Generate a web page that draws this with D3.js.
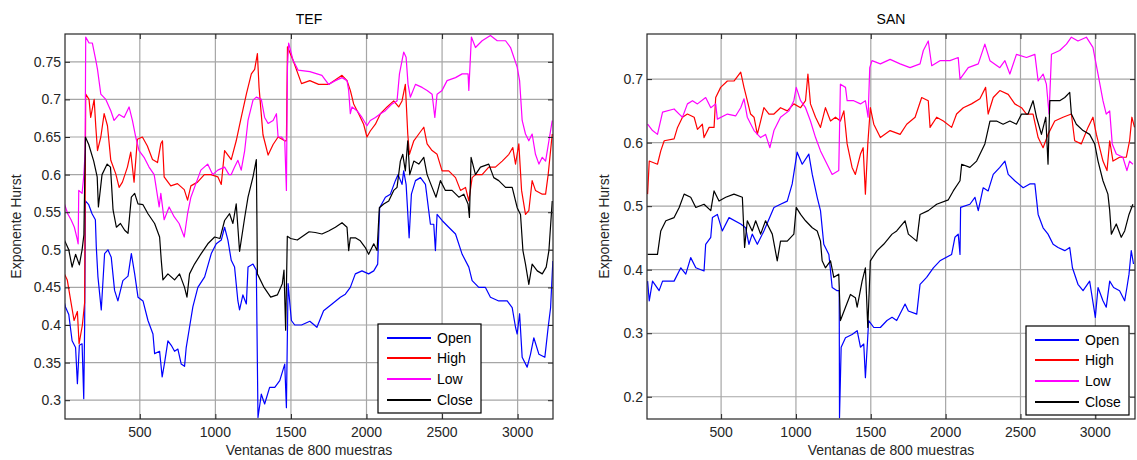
<!DOCTYPE html>
<html lang="es">
<head>
<meta charset="UTF-8">
<title>Exponente Hurst</title>
<script src="https://cdn.jsdelivr.net/npm/d3@7/dist/d3.min.js"></script>
<style>
body { margin: 0; background: #fff; }
svg { display: block; font-family: "Liberation Sans", Arial, sans-serif; }
</style>
</head>
<body>
<svg id="chart" width="1137" height="460"></svg>
<script>
var seriesNames = ["Open", "High", "Low", "Close"];
var seriesColors = { Open: "#0000ff", High: "#ff0000", Low: "#ff00ff", Close: "#000000" };
var xTicks = [500, 1000, 1500, 2000, 2500, 3000];
var tefYTicks = [0.3, 0.35, 0.4, 0.45, 0.5, 0.55, 0.6, 0.65, 0.7, 0.75];
var sanYTicks = [0.2, 0.3, 0.4, 0.5, 0.6, 0.7];

// TEF  [ventana, hurst]
var tefOpen = [[1,0.43],[8,0.424],[30,0.414],[52,0.379],[75,0.37],[87,0.322],[100,0.373],[118,0.375],[129,0.302],[135,0.40],[140,0.565],[162,0.56],[184,0.548],[206,0.54],[212,0.504],[223,0.464],[245,0.42],[267,0.495],[289,0.50],[311,0.49],[333,0.446],[355,0.432],[388,0.459],[422,0.465],[444,0.495],[466,0.468],[488,0.437],[521,0.432],[554,0.406],[587,0.388],[598,0.362],[631,0.365],[648,0.331],[664,0.35],[686,0.379],[708,0.373],[730,0.365],[752,0.368],[774,0.348],[796,0.345],[807,0.37],[829,0.397],[851,0.424],[884,0.45],[929,0.464],[973,0.495],[1006,0.508],[1039,0.513],[1061,0.53],[1083,0.513],[1105,0.486],[1127,0.477],[1149,0.432],[1160,0.42],[1182,0.44],[1205,0.428],[1216,0.477],[1249,0.481],[1271,0.473],[1282,0.277],[1304,0.308],[1326,0.295],[1359,0.317],[1393,0.317],[1426,0.326],[1459,0.348],[1470,0.29],[1481,0.455],[1503,0.406],[1525,0.40],[1570,0.40],[1625,0.405],[1672,0.397],[1716,0.419],[1772,0.428],[1827,0.437],[1860,0.441],[1893,0.45],[1926,0.468],[1970,0.472],[2014,0.468],[2048,0.472],[2074,0.481],[2087,0.556],[2125,0.57],[2158,0.574],[2191,0.592],[2209,0.60],[2235,0.587],[2246,0.605],[2262,0.587],[2271,0.556],[2282,0.516],[2297,0.574],[2324,0.592],[2357,0.596],[2390,0.587],[2423,0.534],[2445,0.534],[2456,0.499],[2467,0.547],[2500,0.539],[2544,0.53],[2589,0.521],[2633,0.494],[2677,0.477],[2699,0.459],[2743,0.45],[2787,0.45],[2820,0.437],[2875,0.432],[2931,0.432],[2964,0.423],[2986,0.397],[2997,0.388],[3013,0.415],[3030,0.357],[3063,0.344],[3085,0.361],[3107,0.383],[3141,0.361],[3180,0.357],[3202,0.397],[3218,0.423],[3233,0.485]];
var tefHigh = [[1,0.468],[20,0.46],[43,0.432],[65,0.406],[87,0.418],[98,0.375],[120,0.40],[135,0.43],[142,0.707],[164,0.70],[175,0.676],[198,0.70],[209,0.663],[220,0.632],[242,0.65],[264,0.681],[286,0.665],[308,0.619],[341,0.601],[363,0.583],[385,0.59],[418,0.61],[440,0.63],[462,0.59],[484,0.647],[517,0.65],[550,0.638],[584,0.62],[617,0.616],[639,0.641],[650,0.645],[661,0.597],[705,0.585],[749,0.588],[794,0.58],[816,0.566],[838,0.585],[882,0.59],[927,0.60],[971,0.60],[1016,0.597],[1039,0.587],[1061,0.632],[1105,0.62],[1138,0.645],[1171,0.676],[1205,0.707],[1238,0.734],[1260,0.74],[1278,0.761],[1289,0.716],[1315,0.653],[1349,0.626],[1382,0.64],[1415,0.65],[1459,0.645],[1470,0.645],[1477,0.77],[1514,0.752],[1570,0.721],[1625,0.725],[1683,0.72],[1749,0.72],[1838,0.732],[1871,0.725],[1893,0.712],[1915,0.694],[1948,0.681],[1981,0.667],[2003,0.65],[2025,0.658],[2059,0.667],[2092,0.681],[2136,0.69],[2180,0.698],[2213,0.69],[2235,0.698],[2257,0.72],[2273,0.654],[2284,0.627],[2313,0.645],[2346,0.654],[2379,0.663],[2401,0.641],[2434,0.632],[2467,0.627],[2500,0.605],[2544,0.605],[2589,0.596],[2622,0.579],[2655,0.583],[2677,0.565],[2699,0.596],[2721,0.60],[2765,0.60],[2809,0.61],[2853,0.61],[2898,0.618],[2942,0.627],[2968,0.636],[2986,0.614],[3008,0.641],[3026,0.579],[3052,0.547],[3074,0.552],[3096,0.592],[3118,0.579],[3163,0.574],[3185,0.574],[3202,0.60],[3229,0.654]];
var tefLow = [[1,0.561],[23,0.548],[45,0.54],[67,0.53],[85,0.515],[92,0.508],[96,0.579],[118,0.575],[130,0.60],[138,0.63],[142,0.783],[164,0.775],[186,0.775],[209,0.752],[220,0.74],[242,0.707],[275,0.70],[308,0.685],[330,0.672],[363,0.68],[396,0.676],[429,0.69],[451,0.672],[473,0.65],[495,0.632],[528,0.623],[561,0.61],[595,0.60],[628,0.557],[639,0.575],[661,0.54],[694,0.557],[727,0.544],[760,0.535],[794,0.517],[816,0.548],[838,0.57],[871,0.588],[904,0.606],[949,0.614],[982,0.60],[1016,0.606],[1061,0.61],[1090,0.60],[1105,0.60],[1127,0.61],[1149,0.619],[1171,0.606],[1194,0.632],[1216,0.672],[1249,0.699],[1271,0.703],[1304,0.70],[1326,0.676],[1349,0.668],[1382,0.672],[1404,0.681],[1415,0.65],[1437,0.65],[1459,0.645],[1470,0.579],[1477,0.743],[1485,0.775],[1514,0.752],[1547,0.739],[1625,0.737],[1705,0.732],[1749,0.72],[1794,0.725],[1838,0.729],[1871,0.725],[1882,0.712],[1893,0.681],[1904,0.69],[1937,0.685],[1970,0.676],[2003,0.665],[2025,0.672],[2059,0.676],[2092,0.681],[2125,0.685],[2169,0.694],[2202,0.698],[2218,0.734],[2246,0.763],[2262,0.756],[2275,0.72],[2290,0.703],[2324,0.72],[2368,0.716],[2401,0.712],[2434,0.707],[2452,0.676],[2467,0.707],[2500,0.712],[2533,0.725],[2589,0.729],[2633,0.734],[2672,0.734],[2677,0.712],[2694,0.783],[2721,0.769],[2765,0.778],[2820,0.785],[2865,0.778],[2920,0.778],[2953,0.769],[2975,0.756],[2997,0.743],[3013,0.725],[3030,0.672],[3052,0.654],[3074,0.645],[3096,0.654],[3118,0.627],[3141,0.614],[3163,0.623],[3185,0.618],[3207,0.645],[3229,0.672]];
var tefClose = [[1,0.513],[30,0.50],[52,0.477],[75,0.494],[100,0.48],[118,0.50],[130,0.52],[140,0.65],[162,0.64],[195,0.618],[218,0.597],[226,0.557],[250,0.60],[284,0.614],[306,0.61],[323,0.553],[345,0.53],[372,0.535],[400,0.526],[422,0.522],[444,0.57],[466,0.575],[488,0.561],[521,0.56],[554,0.548],[598,0.535],[631,0.517],[642,0.486],[653,0.46],[686,0.468],[730,0.46],[763,0.468],[796,0.45],[812,0.437],[829,0.468],[862,0.481],[906,0.495],[950,0.508],[995,0.517],[1030,0.515],[1061,0.539],[1094,0.548],[1116,0.535],[1138,0.561],[1160,0.498],[1194,0.543],[1216,0.57],[1249,0.597],[1271,0.62],[1275,0.539],[1278,0.468],[1322,0.45],[1366,0.437],[1410,0.44],[1443,0.455],[1454,0.473],[1465,0.393],[1476,0.518],[1498,0.515],[1542,0.513],[1620,0.524],[1661,0.523],[1705,0.521],[1749,0.525],[1794,0.53],[1838,0.536],[1871,0.53],[1882,0.499],[1893,0.516],[1926,0.516],[1959,0.512],[1992,0.503],[2014,0.494],[2048,0.508],[2070,0.499],[2085,0.556],[2114,0.561],[2147,0.565],[2180,0.579],[2202,0.583],[2224,0.618],[2240,0.627],[2257,0.605],[2273,0.645],[2286,0.60],[2313,0.618],[2346,0.614],[2379,0.623],[2401,0.60],[2434,0.583],[2460,0.57],[2489,0.592],[2522,0.579],[2566,0.579],[2611,0.57],[2644,0.574],[2672,0.561],[2681,0.543],[2692,0.623],[2721,0.60],[2754,0.61],[2809,0.614],[2842,0.596],[2875,0.592],[2920,0.583],[2964,0.583],[2997,0.556],[3019,0.547],[3035,0.499],[3052,0.481],[3074,0.454],[3096,0.481],[3130,0.472],[3163,0.468],[3189,0.477],[3207,0.499],[3229,0.565]];

// SAN
var sanOpen = [[9,0.382],[20,0.351],[42,0.382],[86,0.367],[109,0.382],[186,0.382],[231,0.403],[264,0.393],[297,0.419],[331,0.403],[386,0.398],[397,0.44],[431,0.451],[442,0.482],[475,0.487],[508,0.461],[553,0.482],[631,0.472],[664,0.466],[686,0.44],[708,0.456],[742,0.44],[786,0.461],[853,0.498],[897,0.503],[942,0.508],[975,0.535],[1008,0.585],[1042,0.566],[1086,0.582],[1109,0.55],[1142,0.514],[1164,0.493],[1186,0.44],[1220,0.424],[1242,0.372],[1275,0.367],[1289,0.367],[1291,0.167],[1302,0.278],[1331,0.293],[1375,0.298],[1409,0.304],[1431,0.278],[1453,0.283],[1464,0.23],[1486,0.32],[1520,0.309],[1564,0.309],[1608,0.32],[1642,0.325],[1673,0.32],[1729,0.346],[1751,0.335],[1807,0.33],[1829,0.377],[1873,0.388],[1918,0.403],[1962,0.414],[2040,0.424],[2062,0.451],[2084,0.456],[2096,0.424],[2100,0.498],[2162,0.503],[2196,0.514],[2218,0.493],[2251,0.529],[2284,0.524],[2318,0.55],[2362,0.561],[2396,0.571],[2418,0.55],[2462,0.54],[2518,0.529],[2562,0.535],[2596,0.535],[2618,0.487],[2651,0.466],[2684,0.456],[2718,0.44],[2751,0.435],[2796,0.43],[2829,0.435],[2847,0.403],[2884,0.377],[2918,0.367],[2962,0.382],[3000,0.325],[3018,0.372],[3051,0.351],[3073,0.341],[3096,0.382],[3122,0.372],[3162,0.367],[3196,0.351],[3211,0.372],[3225,0.393],[3240,0.43],[3255,0.409]];
var sanHigh = [[9,0.519],[20,0.571],[75,0.566],[97,0.587],[120,0.603],[186,0.606],[209,0.624],[242,0.64],[275,0.645],[320,0.64],[342,0.621],[375,0.629],[386,0.608],[420,0.624],[453,0.624],[464,0.671],[497,0.687],[542,0.697],[586,0.697],[631,0.711],[653,0.687],[675,0.666],[697,0.645],[720,0.64],[742,0.613],[764,0.634],[786,0.655],[820,0.645],[853,0.645],[897,0.655],[942,0.65],[986,0.661],[1031,0.655],[1064,0.666],[1080,0.708],[1097,0.661],[1131,0.64],[1164,0.624],[1197,0.655],[1231,0.634],[1264,0.64],[1297,0.634],[1320,0.65],[1342,0.598],[1375,0.561],[1397,0.55],[1431,0.582],[1449,0.592],[1464,0.519],[1480,0.598],[1497,0.655],[1520,0.629],[1564,0.608],[1629,0.619],[1696,0.613],[1740,0.629],[1796,0.64],[1840,0.671],[1884,0.666],[1896,0.624],[1940,0.64],[1985,0.634],[2040,0.624],[2073,0.645],[2118,0.655],[2173,0.661],[2229,0.669],[2267,0.687],[2284,0.645],[2318,0.671],[2362,0.682],[2418,0.676],[2462,0.661],[2507,0.655],[2540,0.645],[2584,0.645],[2618,0.608],[2651,0.592],[2684,0.613],[2729,0.634],[2784,0.64],[2840,0.645],[2862,0.603],[2906,0.598],[2951,0.624],[2984,0.64],[3007,0.613],[3051,0.571],[3078,0.556],[3096,0.603],[3118,0.571],[3162,0.577],[3207,0.577],[3229,0.603],[3244,0.64],[3262,0.624]];
var sanLow = [[9,0.629],[42,0.619],[75,0.613],[109,0.648],[186,0.653],[220,0.645],[242,0.64],[275,0.661],[309,0.666],[342,0.661],[397,0.671],[431,0.655],[464,0.661],[475,0.637],[542,0.645],[597,0.642],[631,0.655],[653,0.669],[675,0.64],[720,0.619],[764,0.608],[797,0.613],[826,0.592],[853,0.619],[897,0.64],[953,0.65],[986,0.666],[1002,0.687],[1031,0.666],[1064,0.655],[1097,0.634],[1131,0.608],[1164,0.587],[1208,0.566],[1242,0.55],[1286,0.556],[1297,0.692],[1331,0.687],[1342,0.666],[1386,0.666],[1431,0.661],[1464,0.666],[1482,0.64],[1493,0.718],[1508,0.729],[1564,0.724],[1629,0.731],[1696,0.724],[1762,0.718],[1829,0.724],[1851,0.745],[1884,0.76],[1907,0.721],[1962,0.729],[2029,0.729],[2084,0.734],[2096,0.70],[2151,0.718],[2218,0.724],[2262,0.755],[2296,0.729],[2362,0.718],[2396,0.729],[2429,0.708],[2473,0.739],[2540,0.734],[2596,0.739],[2618,0.697],[2651,0.708],[2673,0.692],[2691,0.645],[2707,0.739],[2762,0.745],[2807,0.755],[2840,0.766],[2884,0.76],[2940,0.766],[2984,0.75],[3018,0.708],[3051,0.666],[3073,0.645],[3096,0.65],[3113,0.598],[3140,0.582],[3184,0.577],[3211,0.556],[3229,0.571],[3251,0.566]];
var sanClose = [[9,0.424],[75,0.424],[97,0.461],[131,0.477],[186,0.482],[220,0.498],[253,0.519],[297,0.514],[331,0.498],[386,0.503],[431,0.493],[453,0.524],[486,0.508],[531,0.514],[586,0.519],[642,0.514],[657,0.435],[675,0.477],[708,0.461],[731,0.477],[764,0.456],[797,0.477],[842,0.456],[875,0.414],[897,0.445],[942,0.445],[986,0.456],[1002,0.498],[1031,0.487],[1064,0.477],[1109,0.466],[1142,0.461],[1164,0.445],[1175,0.414],[1197,0.403],[1231,0.414],[1253,0.388],[1286,0.393],[1297,0.32],[1331,0.341],[1364,0.361],[1397,0.356],[1409,0.341],[1442,0.382],[1464,0.403],[1480,0.309],[1497,0.414],[1542,0.43],[1586,0.44],[1642,0.456],[1673,0.461],[1729,0.477],[1751,0.456],[1807,0.445],[1829,0.487],[1884,0.493],[1940,0.503],[2018,0.51],[2051,0.524],[2096,0.54],[2107,0.566],[2162,0.561],[2207,0.571],[2262,0.598],[2296,0.634],[2340,0.634],[2384,0.629],[2429,0.634],[2473,0.629],[2507,0.645],[2551,0.645],[2584,0.666],[2607,0.64],[2640,0.613],[2669,0.64],[2684,0.566],[2696,0.666],[2762,0.666],[2796,0.671],[2829,0.679],[2840,0.645],[2873,0.629],[2918,0.619],[2962,0.613],[2996,0.598],[3018,0.571],[3051,0.54],[3084,0.519],[3096,0.493],[3107,0.456],[3140,0.472],[3173,0.451],[3196,0.461],[3225,0.487],[3251,0.503]];

var svg = d3.select("#chart");

var drawPanel = function(p) {
	var xScale = d3.scaleLinear().domain(p.xDomain).range([p.left, p.right]);
	var yScale = d3.scaleLinear().domain(p.yDomain).range([p.bottom, p.top]);
	var g = svg.append("g");
	var fmt = function(d) { return String(+d.toFixed(2)); };

	/*grid*/
	g.append("g").selectAll("line").data(xTicks).enter().append("line")
		.attr("x1", function(d) { return xScale(d); })
		.attr("x2", function(d) { return xScale(d); })
		.attr("y1", p.top).attr("y2", p.bottom)
		.attr("stroke", "#a6a6a6").attr("stroke-width", 1.2);
	g.append("g").selectAll("line").data(p.yTicks).enter().append("line")
		.attr("y1", function(d) { return yScale(d); })
		.attr("y2", function(d) { return yScale(d); })
		.attr("x1", p.left).attr("x2", p.right)
		.attr("stroke", "#a6a6a6").attr("stroke-width", 1.2);

	/*lines*/
	var clipId = "clip" + p.title;
	svg.append("clipPath").attr("id", clipId).append("rect")
		.attr("x", p.left).attr("y", p.top)
		.attr("width", p.right - p.left).attr("height", p.bottom - p.top);
	var line = d3.line()
		.x(function(d) { return xScale(d[0]); })
		.y(function(d) { return yScale(d[1]); });
	g.append("g").attr("clip-path", "url(#" + clipId + ")")
		.selectAll("path").data(seriesNames).enter().append("path")
		.attr("d", function(name) { return line(p.series[name]); })
		.attr("fill", "none")
		.attr("stroke", function(name) { return seriesColors[name]; })
		.attr("stroke-width", 1.2)
		.attr("stroke-linejoin", "round");

	/*axes, ticks inward*/
	var xAxisB = d3.axisBottom(xScale).tickValues(xTicks).tickSize(-5).tickFormat("");
	var xAxisT = d3.axisTop(xScale).tickValues(xTicks).tickSize(-5).tickFormat("");
	var yAxisL = d3.axisLeft(yScale).tickValues(p.yTicks).tickSize(-5).tickFormat("");
	var yAxisR = d3.axisRight(yScale).tickValues(p.yTicks).tickSize(-5).tickFormat("");
	g.append("g").attr("transform", "translate(0," + p.bottom + ")").call(xAxisB);
	g.append("g").attr("transform", "translate(0," + p.top + ")").call(xAxisT);
	g.append("g").attr("transform", "translate(" + p.left + ",0)").call(yAxisL);
	g.append("g").attr("transform", "translate(" + p.right + ",0)").call(yAxisR);
	g.selectAll(".domain").remove();
	g.selectAll(".tick line").attr("stroke", "#262626");
	g.append("rect")
		.attr("x", p.left).attr("y", p.top)
		.attr("width", p.right - p.left).attr("height", p.bottom - p.top)
		.attr("fill", "none").attr("stroke", "#262626").attr("stroke-width", 1.2);

	/*tick labels*/
	g.append("g").selectAll("text").data(xTicks).enter().append("text")
		.attr("x", function(d) { return xScale(d); })
		.attr("y", p.bottom + 18)
		.attr("text-anchor", "middle")
		.attr("font-size", 14).attr("fill", "#262626")
		.text(function(d) { return d; });
	g.append("g").selectAll("text").data(p.yTicks).enter().append("text")
		.attr("x", p.left - 4)
		.attr("y", function(d) { return yScale(d); })
		.attr("dy", "0.35em")
		.attr("text-anchor", "end")
		.attr("font-size", 14).attr("fill", "#262626")
		.text(fmt);

	/*titles*/
	var cx = (p.left + p.right) / 2;
	g.append("text").attr("x", cx).attr("y", 24)
		.attr("text-anchor", "middle").attr("font-size", 14).attr("fill", "#000")
		.text(p.title);
	g.append("text").attr("x", cx).attr("y", 455)
		.attr("text-anchor", "middle").attr("font-size", 14).attr("fill", "#262626")
		.text("Ventanas de 800 muestras");
	g.append("text")
		.attr("transform", "translate(" + p.ylabelX + "," + ((p.top + p.bottom) / 2) + ") rotate(-90)")
		.attr("text-anchor", "middle").attr("dy", "0.35em")
		.attr("font-size", 14).attr("fill", "#262626")
		.text("Exponente Hurst");

	/*legend*/
	var lg = g.append("g").attr("transform", "translate(" + p.legend[0] + "," + p.legend[1] + ")");
	lg.append("rect").attr("width", 103).attr("height", 89)
		.attr("fill", "#fff").attr("stroke", "#000").attr("stroke-width", 1.2);
	seriesNames.forEach(function(name, i) {
		var yy = Math.round(13.5 + i * 20.8);
		lg.append("rect").attr("x", 9).attr("y", yy - 1).attr("width", 44).attr("height", 2)
			.attr("fill", seriesColors[name]);
		lg.append("text").attr("x", 59).attr("y", yy).attr("dy", "0.35em")
			.attr("font-size", 14).attr("fill", "#000")
			.text(name);
	});
};

drawPanel({ title: "TEF", left: 65, right: 553, top: 34, bottom: 419, xDomain: [5, 3234], yDomain: [0.275, 0.787],
	yTicks: tefYTicks, series: { Open: tefOpen, High: tefHigh, Low: tefLow, Close: tefClose }, ylabelX: 16, legend: [378, 324] });
drawPanel({ title: "SAN", left: 647, right: 1135, top: 34, bottom: 419, xDomain: [5, 3265], yDomain: [0.165, 0.771],
	yTicks: sanYTicks, series: { Open: sanOpen, High: sanHigh, Low: sanLow, Close: sanClose }, ylabelX: 604, legend: [1026, 326] });
</script>
</body>
</html>
